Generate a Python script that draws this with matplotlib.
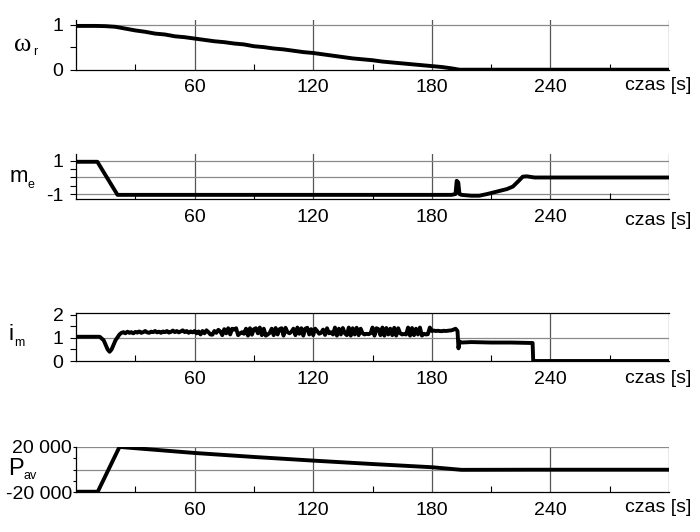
import numpy as np
import matplotlib.pyplot as plt
from matplotlib.ticker import MultipleLocator

plt.rcParams['font.family'] = ['Liberation Sans', 'DejaVu Sans']

# --- dane ---
t_w = [0, 5, 10, 15, 20, 25, 30, 35, 40, 45, 50, 55, 60, 65, 70, 75, 80, 85, 90, 95,
       100, 105, 110, 115, 120, 125, 130, 135, 140, 145, 150, 155, 160, 165, 170,
       175, 180, 185, 190, 194, 300]
w_r = [0.97, 0.97, 0.97, 0.965, 0.95, 0.91, 0.87, 0.84, 0.80, 0.78, 0.74, 0.72, 0.69,
       0.66, 0.63, 0.61, 0.58, 0.56, 0.52, 0.50, 0.47, 0.45, 0.42, 0.39, 0.37, 0.34,
       0.31, 0.28, 0.25, 0.23, 0.21, 0.18, 0.16, 0.14, 0.12, 0.10, 0.08, 0.06, 0.03,
       0.0, 0.0]

t_me = [0, 10.8, 21, 60, 120, 190, 192, 192.6, 193.4, 194, 195, 200, 204, 208, 213,
        218, 221, 224, 226, 228, 232, 300]
m_e = [0.95, 0.95, -1.05, -1.05, -1.05, -1.05, -1.0, -0.2, -0.3, -1.0, -1.05, -1.1,
       -1.1, -1.0, -0.85, -0.7, -0.55, -0.2, 0.05, 0.07, 0.0, 0.0]

t_im_start = [0, 12, 14, 16, 17, 18, 20, 22]
im_start = [1.05, 1.05, 0.9, 0.5, 0.4, 0.5, 0.9, 1.15]
# 23 s .. 193 s, co 1 s
im_mid = [1.22, 1.25, 1.2, 1.27, 1.22, 1.25, 1.2, 1.26, 1.23, 1.28,
          1.22, 1.25, 1.3, 1.24, 1.22, 1.27, 1.25, 1.3, 1.24, 1.27,
          1.22, 1.28, 1.25, 1.3, 1.23, 1.26, 1.32, 1.25, 1.3, 1.24,
          1.28, 1.33, 1.25, 1.3, 1.22, 1.28, 1.24, 1.3,
          1.2, 1.28, 1.15, 1.3, 1.2, 1.33, 1.25, 1.15, 1.14, 1.3,
          1.22, 1.35, 1.28, 1.12, 1.38, 1.2, 1.42, 1.15, 1.4, 1.36,
          1.42, 1.12, 1.2, 1.25, 1.18, 1.4, 1.1, 1.42, 1.14, 1.38,
          1.42, 1.2, 1.45, 1.12, 1.4, 1.1, 1.15, 1.22, 1.4, 1.12,
          1.43, 1.15, 1.38, 1.42, 1.1, 1.44, 1.25, 1.2, 1.27, 1.4,
          1.12, 1.45, 1.18, 1.42, 1.1, 1.4, 1.44, 1.15, 1.38, 1.12,
          1.4, 1.3, 1.18, 1.22, 1.36, 1.13, 1.42, 1.2, 1.25, 1.15,
          1.45, 1.1, 1.4, 1.15, 1.43, 1.2, 1.12, 1.45, 1.1, 1.42,
          1.15, 1.44, 1.12, 1.4, 1.2, 1.15, 1.18, 1.16, 1.2, 1.45,
          1.1, 1.42, 1.38, 1.12, 1.45, 1.1, 1.43, 1.15, 1.4, 1.12,
          1.44, 1.1, 1.42, 1.2, 1.15, 1.17, 1.15, 1.45, 1.1, 1.43,
          1.12, 1.4, 1.15, 1.45, 1.1, 1.18, 1.15, 1.16, 1.45, 1.3,
          1.32, 1.3, 1.31, 1.3, 1.29, 1.31, 1.3, 1.31, 1.32, 1.33, 1.36, 1.4, 1.3]
t_im_end = [193.5, 194, 195, 200, 210, 220, 231, 231.3, 300]
im_end = [0.55, 0.85, 0.8, 0.82, 0.8, 0.8, 0.78, 0.0, 0.0]

t_p = [0, 11, 22, 60, 90, 120, 150, 180, 195, 230, 300]
p_av = [-19500, -19500, 19800, 14500, 11000, 7800, 4800, 2000, -300, -200, -200]

xticks = [60, 120, 180, 240]

t_im = t_im_start + list(np.arange(23, 23 + len(im_mid))) + t_im_end
i_m = im_start + im_mid + im_end

W, H = 700, 532
fig = plt.figure(figsize=(7, 5.32), dpi=100)


def px_axes(top, bottom, left=76, right=669):
    return fig.add_axes([left / W, 1 - bottom / H, (right - left) / W, (bottom - top) / H])


def style(ax, ylim, yticks, ylabels, ygrid, yminor, top_spine, czas_y, ypad=5):
    ax.set_xlim(0, 300)
    ax.set_ylim(*ylim)
    ax.set_xticks([0] + xticks + [300])
    ax.set_xticklabels([''] + [str(v) for v in xticks] + [''])
    ax.xaxis.set_minor_locator(MultipleLocator(30))
    ax.tick_params(axis='x', which='major', direction='in', length=0, labelsize=14, pad=7)
    ax.tick_params(axis='x', which='minor', direction='in', length=4, width=0.8)
    ax.set_yticks(yticks)
    ax.set_yticklabels(ylabels)
    ax.yaxis.set_minor_locator(MultipleLocator(yminor))
    ax.tick_params(axis='y', which='both', direction='out', length=4, width=0.8,
                   labelsize=14, pad=ypad)
    for x in xticks + [300]:
        ax.axvline(x, color='#555555', lw=0.9, zorder=1)
    for y in ygrid:
        ax.axhline(y, color='#8a8a8a', lw=0.9, zorder=1)
    ax.spines['top'].set_visible(top_spine)
    ax.spines['right'].set_visible(False)
    for s in ax.spines.values():
        s.set_linewidth(0.9)
    ax.patch.set_alpha(0)
    fig.text(691 / W, 1 - czas_y / H, 'czas [s]', fontsize=14, ha='right', va='top')


lw = 2.8
ax1 = px_axes(20.5, 69.7)
ax1.plot(t_w, w_r, color='black', lw=lw, zorder=3)
style(ax1, (0, 1.09), [0, 1], ['0', '1'], [1], 0.5, False, 77)

ax2 = px_axes(154, 199)
ax2.plot(t_me, m_e, color='black', lw=lw, zorder=3)
style(ax2, (-1.3, 1.42), [-1, 1], ['-1', '1'], [-1, 0, 1], 0.5, False, 212)

ax3 = px_axes(313, 361)
ax3.plot(t_im, i_m, color='black', lw=lw, zorder=3)
style(ax3, (0, 2.08), [0, 1, 2], ['0', '1', '2'], [1], 0.5, True, 370)

ax4 = px_axes(446.7, 492.3)
ax4.plot(t_p, p_av, color='black', lw=lw, zorder=3)
style(ax4, (-20000, 20000), [-20000, 20000], ['-20 000', '20 000'], [0, 20000], 10000,
      False, 499, ypad=0.5)
ax4.tick_params(axis='y', which='both', length=2.5)

# etykiety osi Y
lab = dict(fontsize=16, ha='left', va='center')
fig.text(14 / W, 1 - 45 / H, '\u03c9', fontsize=19, ha='left', va='center',
         family='Liberation Serif')
fig.text(33 / W, 1 - 52 / H, 'r', fontsize=9, ha='left', va='center')
fig.text(10 / W, 1 - 176 / H, 'm', **lab)
fig.text(27 / W, 1 - 185 / H, 'e', fontsize=9, ha='left', va='center')
fig.text(9 / W, 1 - 334 / H, 'i', **lab)
fig.text(14 / W, 1 - 343 / H, 'm', fontsize=9, ha='left', va='center')
fig.text(8 / W, 1 - 469 / H, 'P', fontsize=17, ha='left', va='center')
fig.text(23 / W, 1 - 476 / H, 'av', fontsize=9, ha='left', va='center')

fig.savefig('out.png', dpi=100)
